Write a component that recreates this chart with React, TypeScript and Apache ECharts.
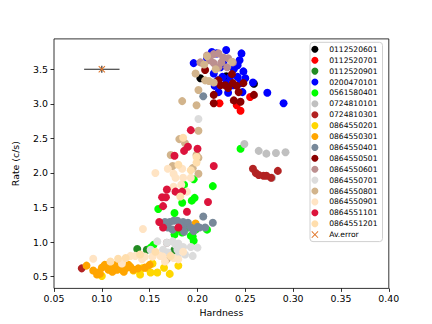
import React, { useEffect, useRef } from "react";
import * as echarts from "echarts";

// ---- data (Hardness, Rate c/s) ----
const OBS_0112520601 = [[0.203, 3.37], [0.259, 3.29], [0.230, 3.40]];
const OBS_0112520701 = [[0.223, 3.01], [0.241, 2.98], [0.245, 2.90], [0.255, 3.10]];
const OBS_0112520901 = [[0.137, 0.90], [0.147, 0.89], [0.176, 0.89], [0.175, 0.82]];
const OBS_0200470101 = [
  [0.196, 3.59], [0.215, 3.75], [0.220, 3.73], [0.230, 3.78], [0.246, 3.73], [0.244, 3.63],
  [0.242, 3.56], [0.238, 3.50], [0.248, 3.47], [0.217, 3.44], [0.221, 3.34], [0.226, 3.39],
  [0.234, 3.39], [0.242, 3.39], [0.245, 3.30], [0.247, 3.17], [0.232, 3.16], [0.222, 3.17],
  [0.258, 3.31], [0.273, 3.16], [0.290, 3.01], [0.227, 3.60], [0.210, 3.66], [0.224, 3.53],
  [0.250, 3.37], [0.237, 3.27], [0.230, 3.30], [0.218, 3.26],
];
const OBS_0561580401 = [
  [0.245, 2.35], [0.216, 1.81], [0.196, 1.91], [0.186, 1.83], [0.197, 1.64], [0.194, 1.60],
  [0.184, 1.57], [0.159, 1.48], [0.176, 1.42], [0.210, 1.18], [0.198, 1.18], [0.179, 1.18],
  [0.176, 1.11], [0.184, 1.14], [0.193, 1.09], [0.196, 1.02], [0.154, 0.96], [0.151, 0.92],
  [0.195, 1.08], [0.190, 1.21],
];
const OBS_0724810101 = [[0.249, 2.42], [0.264, 2.32], [0.272, 2.28], [0.282, 2.29], [0.292, 2.30], [0.278, 1.93]];
const OBS_0724810301 = [[0.258, 2.06], [0.261, 2.00], [0.264, 1.97], [0.269, 1.96], [0.277, 1.93], [0.284, 2.03], [0.079, 0.62], [0.272, 1.96]];
const OBS_0864550201 = [
  [0.100, 0.51], [0.121, 0.60], [0.133, 0.59], [0.140, 0.53], [0.142, 0.62], [0.151, 0.56],
  [0.153, 0.69], [0.158, 0.56], [0.165, 0.63], [0.171, 0.54], [0.180, 0.66], [0.147, 0.63],
];
const OBS_0864550301 = [
  [0.084, 0.66], [0.091, 0.59], [0.095, 0.53], [0.096, 0.56], [0.098, 0.54], [0.103, 0.67],
  [0.106, 0.67], [0.109, 0.70], [0.111, 0.57], [0.114, 0.67], [0.116, 0.60], [0.117, 0.63],
  [0.122, 0.60], [0.123, 0.57], [0.128, 0.67], [0.130, 0.64], [0.133, 0.60], [0.138, 0.62],
  [0.145, 0.63], [0.150, 0.67], [0.100, 0.63], [0.198, 1.27], [0.119, 0.66], [0.107, 0.60],
  [0.112, 0.63], [0.126, 0.63],
];
const OBS_0864550401 = [
  [0.166, 1.29], [0.171, 1.29], [0.175, 1.31], [0.179, 1.31], [0.185, 1.29], [0.190, 1.28],
  [0.169, 1.21], [0.174, 1.18], [0.185, 1.21], [0.193, 1.21], [0.200, 1.22], [0.206, 1.37],
  [0.216, 1.28], [0.208, 1.21], [0.196, 1.16], [0.186, 1.15], [0.206, 3.11], [0.202, 1.21],
  [0.182, 1.24],
];
const OBS_0864550501 = [
  [0.208, 3.49], [0.236, 3.43], [0.224, 3.27], [0.229, 3.27], [0.237, 3.30], [0.243, 3.17],
  [0.248, 3.30], [0.238, 3.05], [0.245, 3.03], [0.259, 3.13], [0.217, 3.13], [0.217, 3.01],
  [0.232, 3.23], [0.241, 3.26], [0.222, 3.34],
];
const OBS_0864550601 = [
  [0.203, 3.60], [0.210, 3.70], [0.217, 3.72], [0.222, 3.73], [0.227, 3.67], [0.232, 3.66],
  [0.217, 3.59], [0.222, 3.53], [0.231, 3.53], [0.237, 3.60], [0.213, 3.63], [0.168, 0.99],
  [0.225, 3.60],
];
const OBS_0864550701 = [
  [0.201, 2.78], [0.158, 1.01], [0.168, 0.99], [0.174, 1.01], [0.177, 0.96], [0.185, 0.93],
  [0.193, 0.93], [0.200, 0.92], [0.180, 0.98], [0.169, 0.85], [0.179, 0.89], [0.195, 0.80],
  [0.179, 0.79], [0.151, 0.89], [0.187, 0.82], [0.164, 0.89],
];
const OBS_0864550801 = [
  [0.198, 3.44], [0.210, 3.69], [0.212, 3.33], [0.217, 3.31], [0.201, 3.20], [0.199, 2.98],
  [0.184, 3.04], [0.236, 3.61], [0.219, 3.50], [0.201, 2.61], [0.181, 2.49], [0.172, 2.26],
  [0.199, 2.26], [0.201, 2.22], [0.174, 2.10], [0.195, 2.07], [0.201, 1.99], [0.168, 0.75],
  [0.207, 3.57], [0.187, 2.43], [0.208, 3.34],
];
const OBS_0864550901 = [
  [0.156, 2.00], [0.169, 2.06], [0.175, 1.99], [0.177, 1.93], [0.184, 2.06], [0.185, 1.93],
  [0.193, 1.93], [0.189, 1.73], [0.175, 1.80], [0.183, 1.83], [0.143, 1.19], [0.091, 0.76],
  [0.121, 0.69], [0.130, 0.80], [0.135, 0.80], [0.142, 0.75], [0.145, 0.79], [0.153, 0.79],
  [0.161, 0.80], [0.164, 0.79], [0.175, 0.77], [0.180, 0.75], [0.166, 0.72], [0.185, 0.86],
];
const OBS_0864551101 = [
  [0.193, 2.62], [0.190, 2.38], [0.186, 2.32], [0.200, 2.35], [0.176, 2.25], [0.217, 2.10],
  [0.168, 1.76], [0.177, 1.73], [0.184, 1.73], [0.163, 1.65], [0.167, 1.65], [0.164, 1.52],
  [0.211, 1.58], [0.189, 1.44], [0.160, 1.29], [0.164, 1.21], [0.180, 1.21],
];
const OBS_0864551201 = [
  [0.185, 2.51], [0.199, 2.23], [0.193, 2.04], [0.180, 2.12], [0.182, 1.66], [0.125, 0.77],
  [0.109, 0.72], [0.140, 0.82], [0.156, 0.86], [0.172, 0.80], [0.117, 0.76], [0.199, 2.15],
];

const SERIES_NAMES = [
  "0112520601", "0112520701", "0112520901", "0200470101", "0561580401", "0724810101",
  "0724810301", "0864550201", "0864550301", "0864550401", "0864550501", "0864550601",
  "0864550701", "0864550801", "0864550901", "0864551101", "0864551201",
];
const SERIES_DATA = [
  OBS_0112520601, OBS_0112520701, OBS_0112520901, OBS_0200470101, OBS_0561580401, OBS_0724810101,
  OBS_0724810301, OBS_0864550201, OBS_0864550301, OBS_0864550401, OBS_0864550501, OBS_0864550601,
  OBS_0864550701, OBS_0864550801, OBS_0864550901, OBS_0864551101, OBS_0864551201,
];
const SERIES_COLORS = [
  "#000000", "#ff0000", "#228b22", "#0000ff", "#00ff00", "#c0c0c0",
  "#b22222", "#ffd700", "#ffa500", "#778899", "#8b0000", "#bc8f8f",
  "#dcdcdc", "#d2b48c", "#ffe4c4", "#dc143c", "#ffdead",
];

const AV_ERROR_NAME = "Av.error";
const AV_ERROR_POINT = [0.10, 3.5];
const AV_ERROR_XERR = 0.0185;
const AV_ERROR_YERR = 0.05;

const X_TICKS = [0.05, 0.10, 0.15, 0.20, 0.25, 0.30, 0.35, 0.40];
const Y_TICKS = [0.5, 1.0, 1.5, 2.0, 2.5, 3.0, 3.5];

const FONT = "DejaVu Sans";
const X_SHAPE = "path://M1,0 L5,4 L9,0 L10,1 L6,5 L10,9 L9,10 L5,6 L1,10 L0,9 L4,5 L0,1 Z";

export default function App() {
  const ref = useRef<HTMLDivElement>(null);
  useEffect(() => {
    if (!ref.current) return;
    const chart = echarts.init(ref.current, null, { renderer: "svg" });
    const scatterSeries = SERIES_NAMES.map((name, i) => ({
      name,
      type: "scatter",
      data: SERIES_DATA[i],
      symbol: "circle",
      symbolSize: 8,
      itemStyle: { color: SERIES_COLORS[i], opacity: 1 },
      emphasis: { disabled: true },
    }));
    const [ex, ey] = AV_ERROR_POINT;
    const option: any = {
      animation: false,
      grid: {
        left: 54, right: 43.2, top: 38.9, bottom: 35.6,
        show: true, borderColor: "#000", borderWidth: 0.8, backgroundColor: "transparent",
      },
      xAxis: {
        type: "value",
        min: X_TICKS[0],
        max: X_TICKS[X_TICKS.length - 1],
        name: "Hardness",
        nameLocation: "middle",
        nameGap: 19,
        nameTextStyle: { fontFamily: FONT, fontSize: 9.4, color: "#000" },
        axisLine: { show: false },
        axisTick: { show: true, length: 3.5, customValues: X_TICKS, lineStyle: { color: "#000", width: 0.8 } },
        axisLabel: {
          margin: 6, fontFamily: FONT, fontSize: 9.4, color: "#000",
          customValues: X_TICKS,
          formatter: (v: number) => v.toFixed(2),
        },
        splitLine: { show: false },
      },
      yAxis: {
        type: "value",
        min: 0.33,
        max: 3.94,
        name: "Rate (c/s)",
        nameLocation: "middle",
        nameGap: 34,
        nameTextStyle: { fontFamily: FONT, fontSize: 9.4, color: "#000" },
        axisLine: { show: false },
        axisTick: { show: true, length: 3.5, customValues: Y_TICKS, lineStyle: { color: "#000", width: 0.8 } },
        axisLabel: {
          margin: 6, fontFamily: FONT, fontSize: 9.4, color: "#000",
          customValues: Y_TICKS,
          formatter: (v: number) => v.toFixed(1),
        },
        splitLine: { show: false },
      },
      legend: {
        orient: "vertical",
        left: 310,
        top: 42.3,
        padding: [3, 5, 3, 1.4],
        itemWidth: 18.6,
        itemHeight: 7,
        itemGap: 2.9,
        textStyle: { fontFamily: FONT, fontSize: 7.6, color: "#000", lineHeight: 8 },
        backgroundColor: "rgba(255,255,255,0.8)",
        borderColor: "#d0d0d0",
        borderWidth: 1,
        borderRadius: 3,
        selectedMode: false,
        data: [...SERIES_NAMES, AV_ERROR_NAME],
      },
      series: [
        ...scatterSeries,
        {
          name: "errx",
          type: "line",
          data: [[ex - AV_ERROR_XERR, ey], [ex + AV_ERROR_XERR, ey]],
          symbol: "none",
          lineStyle: { color: "#222", width: 1.1 },
          z: 5,
          silent: true,
        },
        {
          name: "erry",
          type: "line",
          data: [[ex, ey - AV_ERROR_YERR], [ex, ey + AV_ERROR_YERR]],
          symbol: "none",
          lineStyle: { color: "#222", width: 1.1 },
          z: 5,
          silent: true,
        },
        {
          name: AV_ERROR_NAME,
          type: "scatter",
          data: [AV_ERROR_POINT],
          symbol: X_SHAPE,
          symbolSize: 7,
          itemStyle: { color: "#e0762a", opacity: 1 },
          z: 6,
        },
      ],
    };
    chart.setOption(option);
    return () => chart.dispose();
  }, []);
  return (
    <div
      ref={ref}
      style={{ position: "absolute", left: 0, top: 0, width: 432, height: 324, background: "#fff" }}
    />
  );
}
